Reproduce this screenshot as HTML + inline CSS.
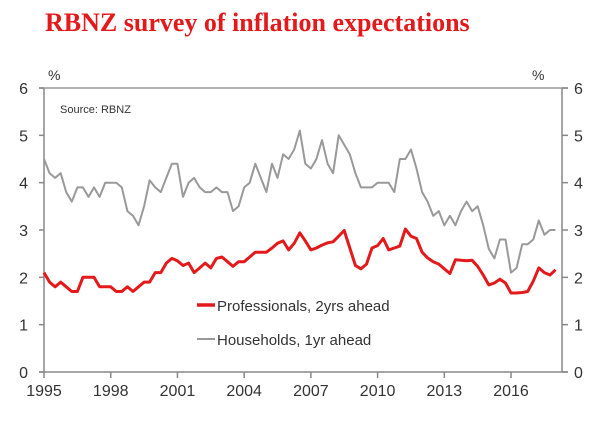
<!DOCTYPE html>
<html><head><meta charset="utf-8"><style>
body{margin:0;background:#fff;}
svg text{font-family:"Liberation Sans",sans-serif;}
</style></head><body>
<svg id="chart" width="600" height="416" xmlns="http://www.w3.org/2000/svg">
<text x="45" y="31" fill="#e3191b" font-size="26" font-weight="bold" style="font-family:'Liberation Serif',serif">RBNZ survey of inflation expectations</text>
<text x="48" y="80" fill="#333" font-size="14">%</text>
<text x="532" y="80" fill="#333" font-size="14">%</text>
<text x="60" y="113" fill="#333" font-size="11">Source: RBNZ</text>
<g id="axes"></g>
<g id="series"></g>
<g>
<line x1="197" y1="305" x2="215" y2="305" stroke="#e3191b" stroke-width="3.5"/>
<text x="217" y="311" fill="#333" font-size="15">Professionals, 2yrs ahead</text>
<line x1="197" y1="339" x2="215" y2="339" stroke="#999" stroke-width="2"/>
<text x="217" y="345" fill="#333" font-size="15">Households, 1yr ahead</text>
</g>
</svg>
<script>
const yTicks=[0,1,2,3,4,5,6];
const xTickYears=[1995,1998,2001,2004,2007,2010,2013,2016];
const startYear=1995;
const households=[4.5,4.2,4.1,4.2, 3.8,3.6,3.9,3.9, 3.7,3.9,3.7,4.0, 4.0,4.0,3.9,3.4, 3.3,3.1,3.5,4.05, 3.9,3.8,4.1,4.4, 4.4,3.7,4.0,4.1, 3.9,3.8,3.8,3.9,
 3.8,3.8,3.4,3.5, 3.9,4.0,4.4,4.1, 3.8,4.4,4.1,4.6, 4.5,4.7,5.1,4.4, 4.3,4.5,4.9,4.4, 4.2,5.0,4.8,4.6, 4.2,3.9,3.9,3.9, 4.0,4.0,
 4.0,3.8,4.5,4.5, 4.7,4.3,3.8,3.6, 3.3,3.4,3.1,3.3, 3.1,3.4,3.6,3.4, 3.5,3.1,2.6,2.4, 2.8,2.8,2.1,2.2, 2.7,2.7,2.8,3.2, 2.9,3.0,3.0];
const professionals=[2.1,1.9,1.8,1.9, 1.8,1.7,1.7,2.0, 2.0,2.0,1.8,1.8, 1.8,1.7,1.7,1.8, 1.7,1.8,1.9,1.9, 2.1,2.1,2.3,2.4, 2.35,2.25,2.3,2.1, 2.2,2.3,2.2,2.4,
 2.43,2.33,2.23,2.33, 2.33,2.43,2.53,2.53, 2.53,2.62,2.72,2.77, 2.58,2.72,2.94,2.77, 2.58,2.62,2.68,2.73, 2.75,2.87,2.99,2.62, 2.25,2.18,2.28,2.62, 2.67,2.82,
 2.58,2.62,2.66,3.02, 2.87,2.82,2.53,2.41, 2.33,2.28,2.18,2.08, 2.37,2.36,2.35,2.36, 2.23,2.05,1.84,1.88, 1.96,1.88,1.67,1.67, 1.68,1.70,1.92,2.2, 2.1,2.05,2.16];
const NS="http://www.w3.org/2000/svg";
const X0=44,X1=562,Y0=372,Y6=88,PX=22.24;
function xs(t){return X0+(t-startYear)*PX;}
function ys(v){return Y0-(v/6)*(Y0-Y6);}
function mk(tag,attrs,parent){const e=document.createElementNS(NS,tag);for(const k in attrs)e.setAttribute(k,attrs[k]);parent.appendChild(e);return e;}
const ax=document.getElementById('axes');
let e;
e=mk('line',{x1:X0,y1:Y6,x2:X0,y2:Y0,stroke:'#888','stroke-width':1.5},ax);


e=mk('line',{x1:X1,y1:Y6,x2:X1,y2:Y0,stroke:'#888','stroke-width':1.5},ax);


e=mk('line',{x1:X0-5,y1:Y6,x2:X1+6,y2:Y6,stroke:'#999','stroke-width':1.5},ax);


e=mk('line',{x1:X0-5,y1:Y0,x2:X1+6,y2:Y0,stroke:'#888','stroke-width':1.5},ax);


yTicks.forEach(v=>{
  const y=ys(v);
  mk('line',{x1:X0-5,y1:y,x2:X0,y2:y,stroke:'#888','stroke-width':1.5},ax);
  mk('line',{x1:X1,y1:y,x2:X1+6,y2:y,stroke:'#888','stroke-width':1.5},ax);
  let t=mk('text',{x:28,y:y+6,'text-anchor':'end',fill:'#333','font-size':16},ax);t.textContent=v;
  
  
  t=mk('text',{x:574,y:y+6,fill:'#333','font-size':16},ax);t.textContent=v;
  
  
});
xTickYears.forEach(yr=>{
  const x=xs(yr);
  mk('line',{x1:x,y1:Y0,x2:x,y2:Y0+6,stroke:'#888','stroke-width':1.5},ax);
  const t=mk('text',{x:x,y:Y0+24,'text-anchor':'middle',fill:'#333','font-size':16},ax);t.textContent=yr;
  
  
});
const sg=document.getElementById('series');
function line(data,color,w,name){
  const pts=data.map((v,i)=>xs(startYear+i/4).toFixed(1)+','+ys(v).toFixed(1)).join(' ');
  const p=mk('polyline',{points:pts,fill:'none',stroke:color,'stroke-width':w,'stroke-linejoin':'round'},sg);
  
  
}
line(households,'#999',2,'households-line');
line(professionals,'#e3191b',3,'professionals-line');
</script>
</body></html>
